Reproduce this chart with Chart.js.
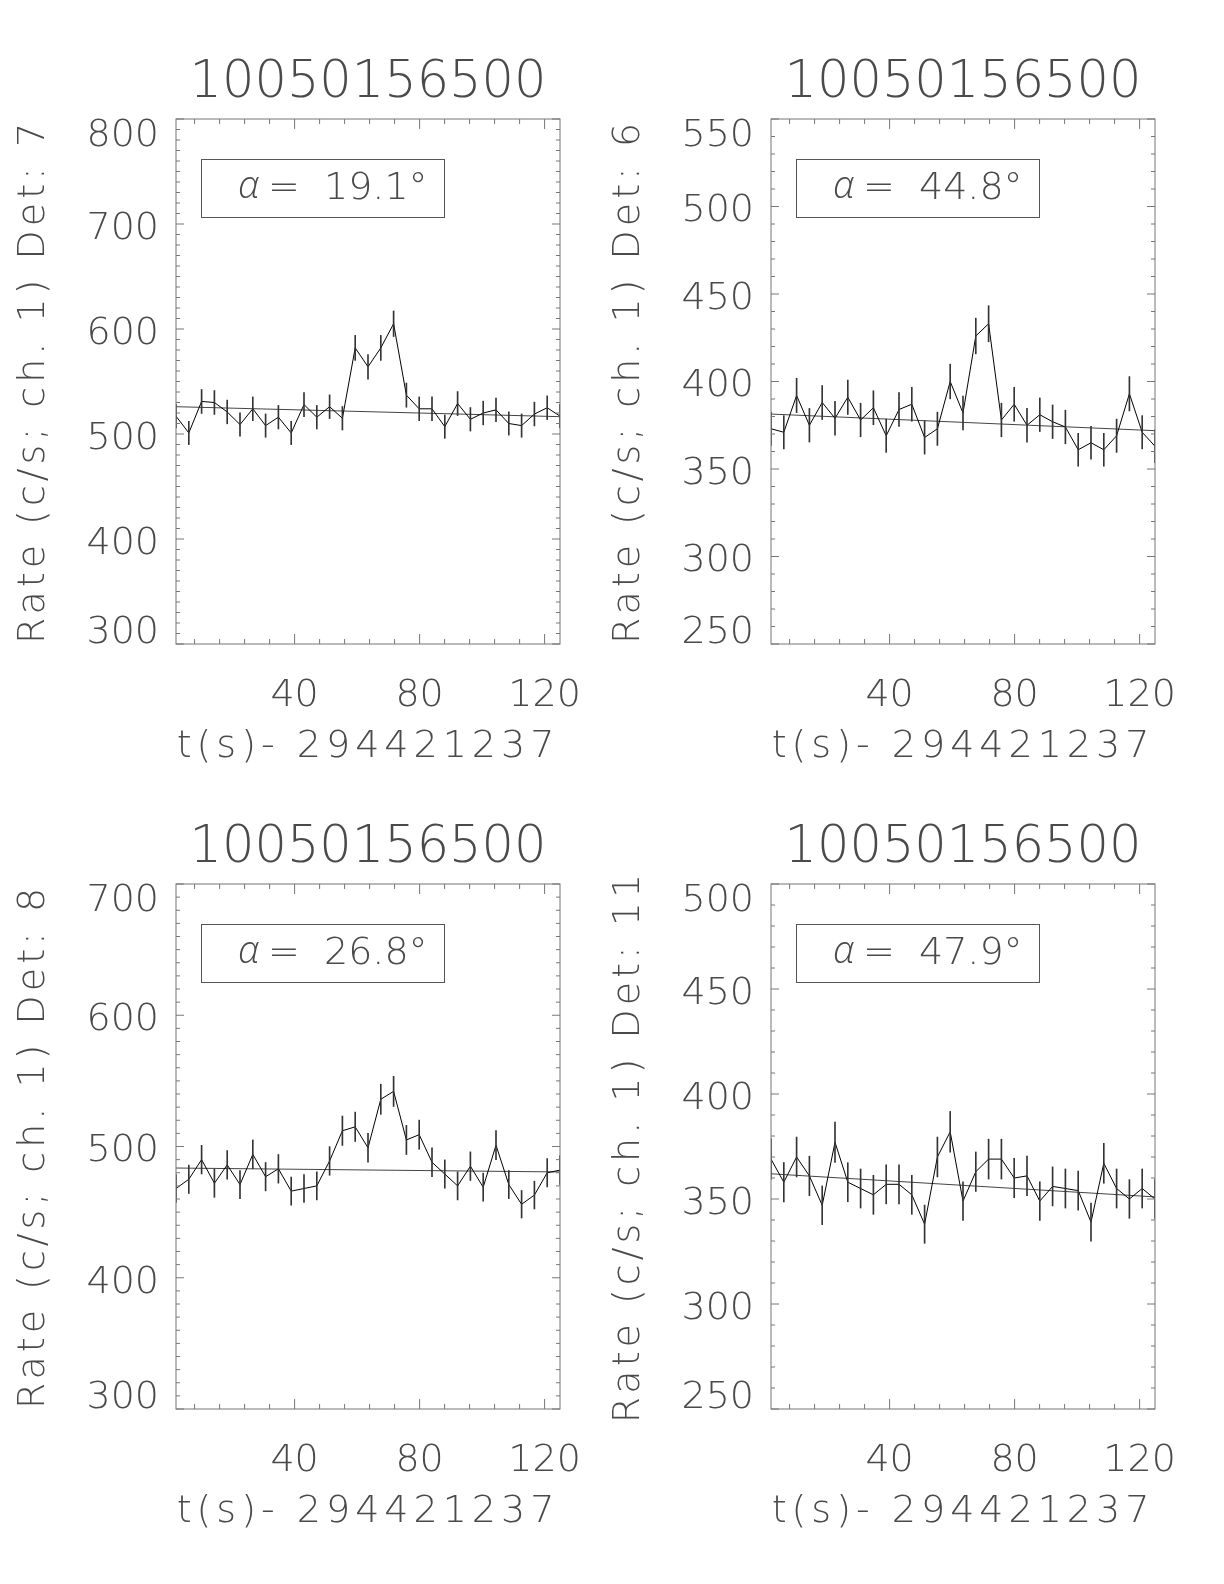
<!DOCTYPE html>
<html>
<head>
<meta charset="utf-8">
<script src="https://cdn.jsdelivr.net/npm/chart.js@4.4.1/dist/chart.umd.min.js"></script>
<style>
  html, body { margin: 0; padding: 0; background: #fff; }
  #page { position: relative; width: 1224px; height: 1584px; }
  canvas { position: absolute; }
</style>
</head>
<body>
<div id="page">
  <canvas id="p0" width="612" height="792" style="left:0px;top:0px"></canvas>
  <canvas id="p1" width="612" height="792" style="left:595px;top:0px"></canvas>
  <canvas id="p2" width="612" height="792" style="left:0px;top:765px"></canvas>
  <canvas id="p3" width="612" height="792" style="left:595px;top:765px"></canvas>
</div>
<script>
// bin centres, s (4.096 s bins)
const times = [2.048, 6.144, 10.24, 14.336, 18.432, 22.528, 26.624, 30.72, 34.816, 38.912,
  43.008, 47.104, 51.2, 55.296, 59.392, 63.488, 67.584, 71.68, 75.776, 79.872,
  83.968, 88.064, 92.16, 96.256, 100.352, 104.448, 108.544, 112.64, 116.736, 120.832, 124.928];

const rateDet7 = [517, 501, 531, 530, 521, 509, 524, 508, 516, 501, 528, 516, 526, 515, 582, 564,
  582, 605, 537, 524, 524, 507, 529, 514, 520, 523, 510, 508, 519, 525, 517];
const errDet7 = [11.2, 11.1, 11.4, 11.4, 11.3, 11.1, 11.3, 11.1, 11.2, 11.1, 11.4, 11.2, 11.3, 11.2, 11.9, 11.7,
  11.9, 12.2, 11.5, 11.3, 11.3, 11.1, 11.4, 11.2, 11.3, 11.3, 11.1, 11.1, 11.3, 11.3, 11.2];
const bkgDet7 = [526, 516.5];

const rateDet6 = [373, 371, 392, 375, 388, 379, 391, 378, 385, 369, 384, 387, 368, 373, 400, 382,
  426, 433, 378, 387, 375, 381, 377, 374, 361, 365, 361, 369, 393, 371, 363];
const errDet6 = [9.5, 9.5, 9.8, 9.6, 9.7, 9.6, 9.8, 9.6, 9.7, 9.5, 9.7, 9.7, 9.5, 9.5, 9.9, 9.7,
  10.2, 10.3, 9.6, 9.7, 9.6, 9.6, 9.6, 9.6, 9.4, 9.4, 9.4, 9.5, 9.8, 9.5, 9.4];
const bkgDet6 = [381.4, 371.9];

const rateDet8 = [468, 475, 490, 472, 486, 471, 494, 477, 483, 466, 468, 470, 489, 512, 515, 499,
  536, 542, 505, 509, 488, 479, 470, 485, 469, 501, 471, 456, 463, 480, 482];
const errDet8 = [10.7, 10.8, 10.9, 10.7, 10.9, 10.7, 11.0, 10.8, 10.9, 10.7, 10.7, 10.7, 10.9, 11.2, 11.2, 11.0,
  11.5, 11.5, 11.1, 11.1, 10.9, 10.8, 10.7, 10.9, 10.7, 11.1, 10.7, 10.5, 10.6, 10.8, 10.9];
const bkgDet8 = [483.6, 480.6];

const rateDet11 = [369, 358, 370, 361, 347, 377, 358, 355, 352, 357, 357, 352, 338, 370, 382, 349,
  363, 369, 369, 360, 361, 349, 356, 355, 354, 339, 367, 355, 350, 355, 350];
const errDet11 = [9.5, 9.4, 9.5, 9.4, 9.2, 9.6, 9.3, 9.3, 9.3, 9.3, 9.3, 9.3, 9.1, 9.5, 9.7, 9.2,
  9.4, 9.5, 9.5, 9.4, 9.4, 9.2, 9.3, 9.3, 9.3, 9.1, 9.5, 9.3, 9.2, 9.3, 9.2];
const bkgDet11 = [362, 351];

const xTickLabels = [40, 80, 120];
const yTicksDet7 = [300, 400, 500, 600, 700, 800];
const yTicksDet6 = [250, 300, 350, 400, 450, 500, 550];
const yTicksDet8 = [300, 400, 500, 600, 700];
const yTicksDet11 = [250, 300, 350, 400, 450, 500];

const panelTitle = "10050156500";
const xTitle = "t(s)- 294421237";

const FONT = "DejaVu Sans";
const INK = "#4a4a4a";

// spread out the axis titles a bit (the original uses a wide vector font)
function spaceTitle(scale, px) {
  if (scale._spaced) return;
  const orig = scale.drawTitle;
  scale.drawTitle = function () {
    const c = this.ctx;
    const prev = c.letterSpacing;
    c.letterSpacing = px;
    orig.call(this);
    c.letterSpacing = prev;
  };
  scale._spaced = true;
}

// IDL style frame: box on all sides with inward ticks, plus the alpha label box
const idlFrame = {
  id: "idlFrame",
  beforeDraw(chart) {
    spaceTitle(chart.scales.x, "5px");
    spaceTitle(chart.scales.y, "4px");
    const items = chart.scales.y.getLabelItems();
    if (!items._moved && items.length) {
      items.forEach(it => { it.options.translation[1] += 5; });
      items[0].options.translation[1] -= 16;
      items[items.length - 1].options.translation[1] += 12;
      items._moved = true;
    }
  },
  afterDraw(chart, args, opts) {
    const { ctx, chartArea: a, scales: { x, y } } = chart;
    ctx.save();
    ctx.strokeStyle = "#777";
    ctx.lineWidth = 1;
    ctx.strokeRect(a.left, a.top, a.width, a.height);
    ctx.beginPath();
    for (let v = Math.ceil(x.min / 8) * 8; v <= x.max; v += 8) {
      const px = x.getPixelForValue(v);
      const len = v % 40 === 0 ? 10 : 5;
      ctx.moveTo(px, a.bottom); ctx.lineTo(px, a.bottom - len);
      ctx.moveTo(px, a.top); ctx.lineTo(px, a.top + len);
    }
    for (let v = Math.ceil(y.min / 10) * 10; v <= y.max; v += 10) {
      const py = y.getPixelForValue(v);
      const len = (v - y.min) % opts.major === 0 ? 8 : 4;
      ctx.moveTo(a.left, py); ctx.lineTo(a.left + len, py);
      ctx.moveTo(a.right, py); ctx.lineTo(a.right - len, py);
    }
    ctx.stroke();

    // alpha box
    ctx.strokeStyle = "#555";
    ctx.strokeRect(a.left + 25.5, a.top + 40.5, 243, 58);
    ctx.fillStyle = INK;
    ctx.textBaseline = "middle";
    ctx.font = "italic 300 38px 'Open Sans', 'Noto Sans', sans-serif";
    ctx.fillText("\u03b1", a.left + 62, a.top + 68);
    ctx.font = "200 38px '" + FONT + "'";
    ctx.fillText("=  " + opts.alpha + "\u00b0", a.left + 92, a.top + 70);
    ctx.restore();
  }
};

function makePanel(canvasId, rates, errs, bkg, yTicks, det, alpha) {
  const tickFont = { family: FONT, size: 38, weight: 200, lineHeight: 1 };
  return new Chart(document.getElementById(canvasId), {
    type: "line",
    data: {
      datasets: [
        {
          type: "bar",
          data: times.map((t, i) => ({ x: t, y: [rates[i] - errs[i], rates[i] + errs[i]] })),
          backgroundColor: "#333",
          borderWidth: 0,
          barThickness: 1,
          grouped: false
        },
        {
          type: "line",
          data: times.map((t, i) => ({ x: t, y: rates[i] })),
          borderColor: "#000",
          borderWidth: 1,
          pointRadius: 0,
          tension: 0
        },
        {
          type: "line",
          data: [{ x: times[0], y: bkg[0] }, { x: times[times.length - 1], y: bkg[1] }],
          borderColor: "#444",
          borderWidth: 1,
          pointRadius: 0
        }
      ]
    },
    options: {
      responsive: false,
      animation: false,
      devicePixelRatio: 1,
      layout: { padding: { left: 0, right: 52, top: 0, bottom: 0 } },
      scales: {
        x: {
          type: "linear",
          min: times[0],
          max: times[times.length - 1],
          offset: false,
          grid: { display: false, drawTicks: false },
          border: { display: false },
          afterBuildTicks: ax => { ax.ticks = xTickLabels.map(v => ({ value: v })); },
          afterFit: s => { s.height = 148; s.paddingLeft = 0; s.paddingRight = 0; },
          ticks: {
            color: INK, font: tickFont, padding: 33,
            maxRotation: 0, autoSkip: false,
            callback: v => String(v)
          },
          title: {
            display: true, text: xTitle, color: INK, font: tickFont,
            padding: { top: 0, bottom: 26 }
          }
        },
        y: {
          type: "linear",
          min: yTicks[0],
          max: yTicks[yTicks.length - 1],
          beginAtZero: false,
          grid: { display: false, drawTicks: false },
          border: { display: false },
          afterBuildTicks: ax => { ax.ticks = yTicks.map(v => ({ value: v })); },
          afterFit: s => { s.width = 176; s.paddingTop = 0; s.paddingBottom = 0; },
          ticks: {
            color: INK, font: tickFont, padding: 17,
            autoSkip: false,
            callback: v => String(v)
          },
          title: {
            display: true, text: "Rate (c/s; ch. 1) Det: " + det, color: INK, font: tickFont,
            padding: { top: 15, bottom: 0 }
          }
        }
      },
      plugins: {
        legend: { display: false },
        tooltip: { enabled: false },
        title: {
          display: true,
          text: panelTitle,
          fullSize: false,
          color: INK,
          font: { family: FONT, size: 51, weight: 200, lineHeight: 1 },
          padding: { top: 58.5, bottom: 9.5 }
        },
        idlFrame: { alpha: alpha, major: yTicks[1] - yTicks[0] }
      }
    },
    plugins: [idlFrame]
  });
}

makePanel("p0", rateDet7, errDet7, bkgDet7, yTicksDet7, "7", "19.1");
makePanel("p1", rateDet6, errDet6, bkgDet6, yTicksDet6, "6", "44.8");
makePanel("p2", rateDet8, errDet8, bkgDet8, yTicksDet8, "8", "26.8");
makePanel("p3", rateDet11, errDet11, bkgDet11, yTicksDet11, "11", "47.9");
</script>
</body>
</html>
